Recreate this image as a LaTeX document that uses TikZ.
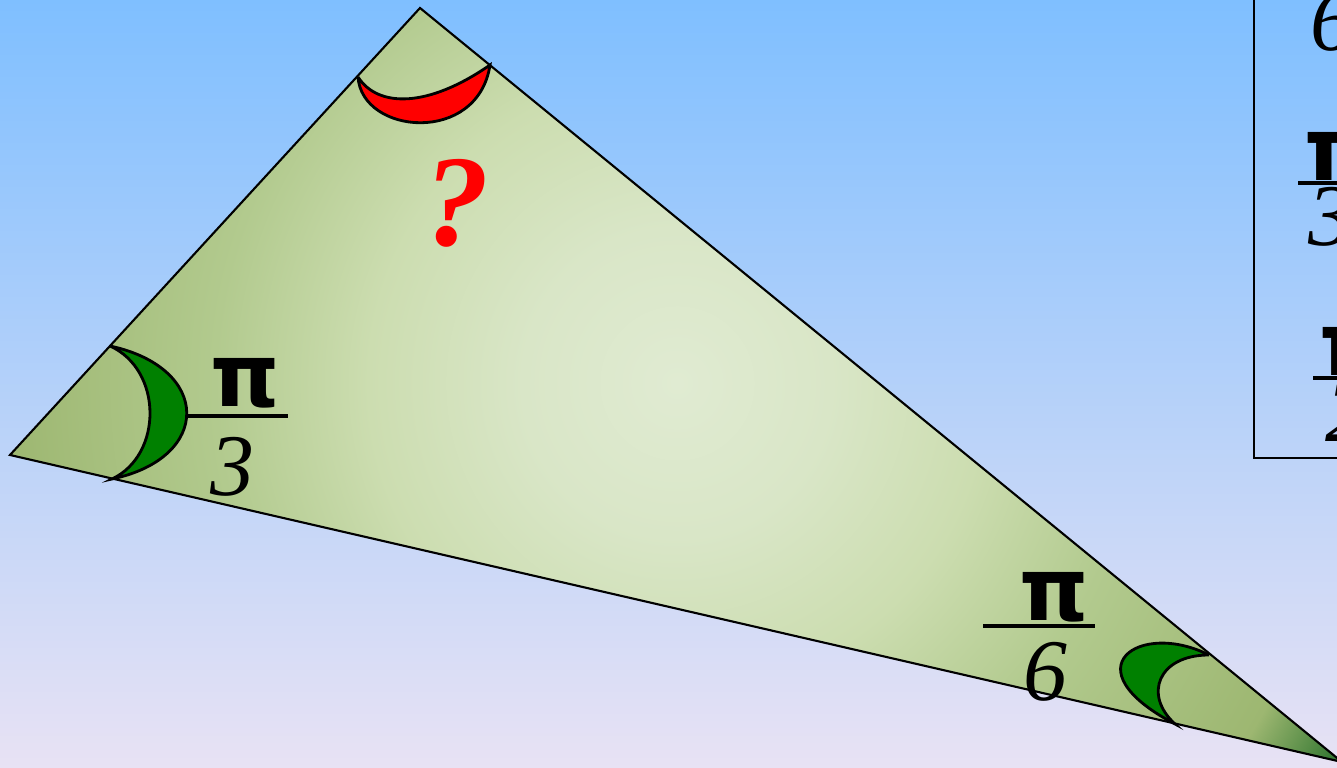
\documentclass[tikz,border=0pt]{standalone}
\usepackage{fontspec}
\setmainfont{Liberation Serif}
\newfontfamily\pifam{DejaVu Sans}
\usetikzlibrary{calc}

\definecolor{skytop}{HTML}{7FBFFF}
\definecolor{skymid}{HTML}{B2D1F2}
\definecolor{skybot}{HTML}{E8E2F4}
\definecolor{leaf0}{HTML}{E0EBD2}
\definecolor{leaf1}{HTML}{D9E6C7}
\definecolor{leaf2}{HTML}{CCDDB0}
\definecolor{leaf3}{HTML}{B2CA8E}
\definecolor{leaf4}{HTML}{9DB771}
\definecolor{leaf5}{HTML}{327630}
\definecolor{markgreen}{HTML}{008000}
\pgfdeclareradialshading{leafshade}{\pgfpointorigin}{color(0bp)=(leaf0); color(5bp)=(leaf1); color(10bp)=(leaf2); color(15bp)=(leaf3); color(21.8bp)=(leaf4); color(24.6bp)=(leaf5); color(50bp)=(leaf5)}

\begin{document}
\begin{tikzpicture}[x=0.01cm, y=-0.01cm,
  pisym/.style={inner sep=0pt, font=\pifam\bfseries\fontsize{25}{30}\selectfont},
  digit/.style={inner sep=0pt, font=\itshape\fontsize{25}{30}\selectfont},
  fracbar/.style={line width=1.3pt},
  anglemark/.style={draw=black, line width=0.8pt}]
\useasboundingbox (0,0) rectangle (1337,768);
\clip (0,0) rectangle (1337,768);
\shade[top color=skytop, middle color=skymid, bottom color=skybot] (0,0) rectangle (1337,768);

\coordinate (A) at (10,455);
\coordinate (B) at (420,8);
\coordinate (C) at (1342,762);
\coordinate (ctr) at (677,383);
\begin{scope}
\clip (A) -- (B) -- (C) -- cycle;
\shade[shading=leafshade] (ctr) circle (7.7cm);
\end{scope}
\draw[line width=0.6pt] (A) -- (B) -- (C) -- cycle;

\coordinate (a1) at (110,346);
\coordinate (a2) at (112,479);
\filldraw[anglemark, fill=markgreen] (a1) .. controls (212,368) and (212,458) .. (a2)
  .. controls (163,455) and (163,370) .. (a1);
\coordinate (b1) at (358,77);
\coordinate (b2) at (490,65);
\filldraw[anglemark, fill=red] (b1) .. controls (362,135) and (478,145) .. (b2)
  .. controls (428,108) and (378,108) .. (b1);
\coordinate (c1) at (1209,655);
\coordinate (c2) at (1175,724);
\filldraw[anglemark, fill=markgreen] (c1) .. controls (1140,620) and (1068,668) .. (c2)
  .. controls (1143,695) and (1158,655) .. (c1);

\node[pisym] (piA) at (245,383) {π};
\draw[fracbar] (188,416) -- (288,416);
\node[digit] (threeA) at (232,467) {3};
\node[pisym] (piC) at (1054,597) {π};
\draw[fracbar] (983,626) -- (1095,626);
\node[digit] (sixC) at (1045,672) {6};
\node[inner sep=0pt, text=red, font=\bfseries\itshape\fontsize{37}{42}\selectfont] (ask) at (457,203) {?};

\draw[line width=0.7pt] (1254,-5) -- (1254,458) -- (1345,458);
\node[digit, anchor=south west] (sixbox) at (1310,52) {6};
\node[pisym, anchor=west] (pibox3) at (1304,157) {π};
\draw[fracbar] (1298,183) -- (1400,183);
\node[digit, anchor=north west] (threebox) at (1308,187) {3};
\node[pisym, anchor=west] (pibox2) at (1319,352) {π};
\draw[fracbar] (1313,378) -- (1400,378);
\node[digit, anchor=north west] (twobox) at (1325,383) {2};
\end{tikzpicture}
\end{document}
